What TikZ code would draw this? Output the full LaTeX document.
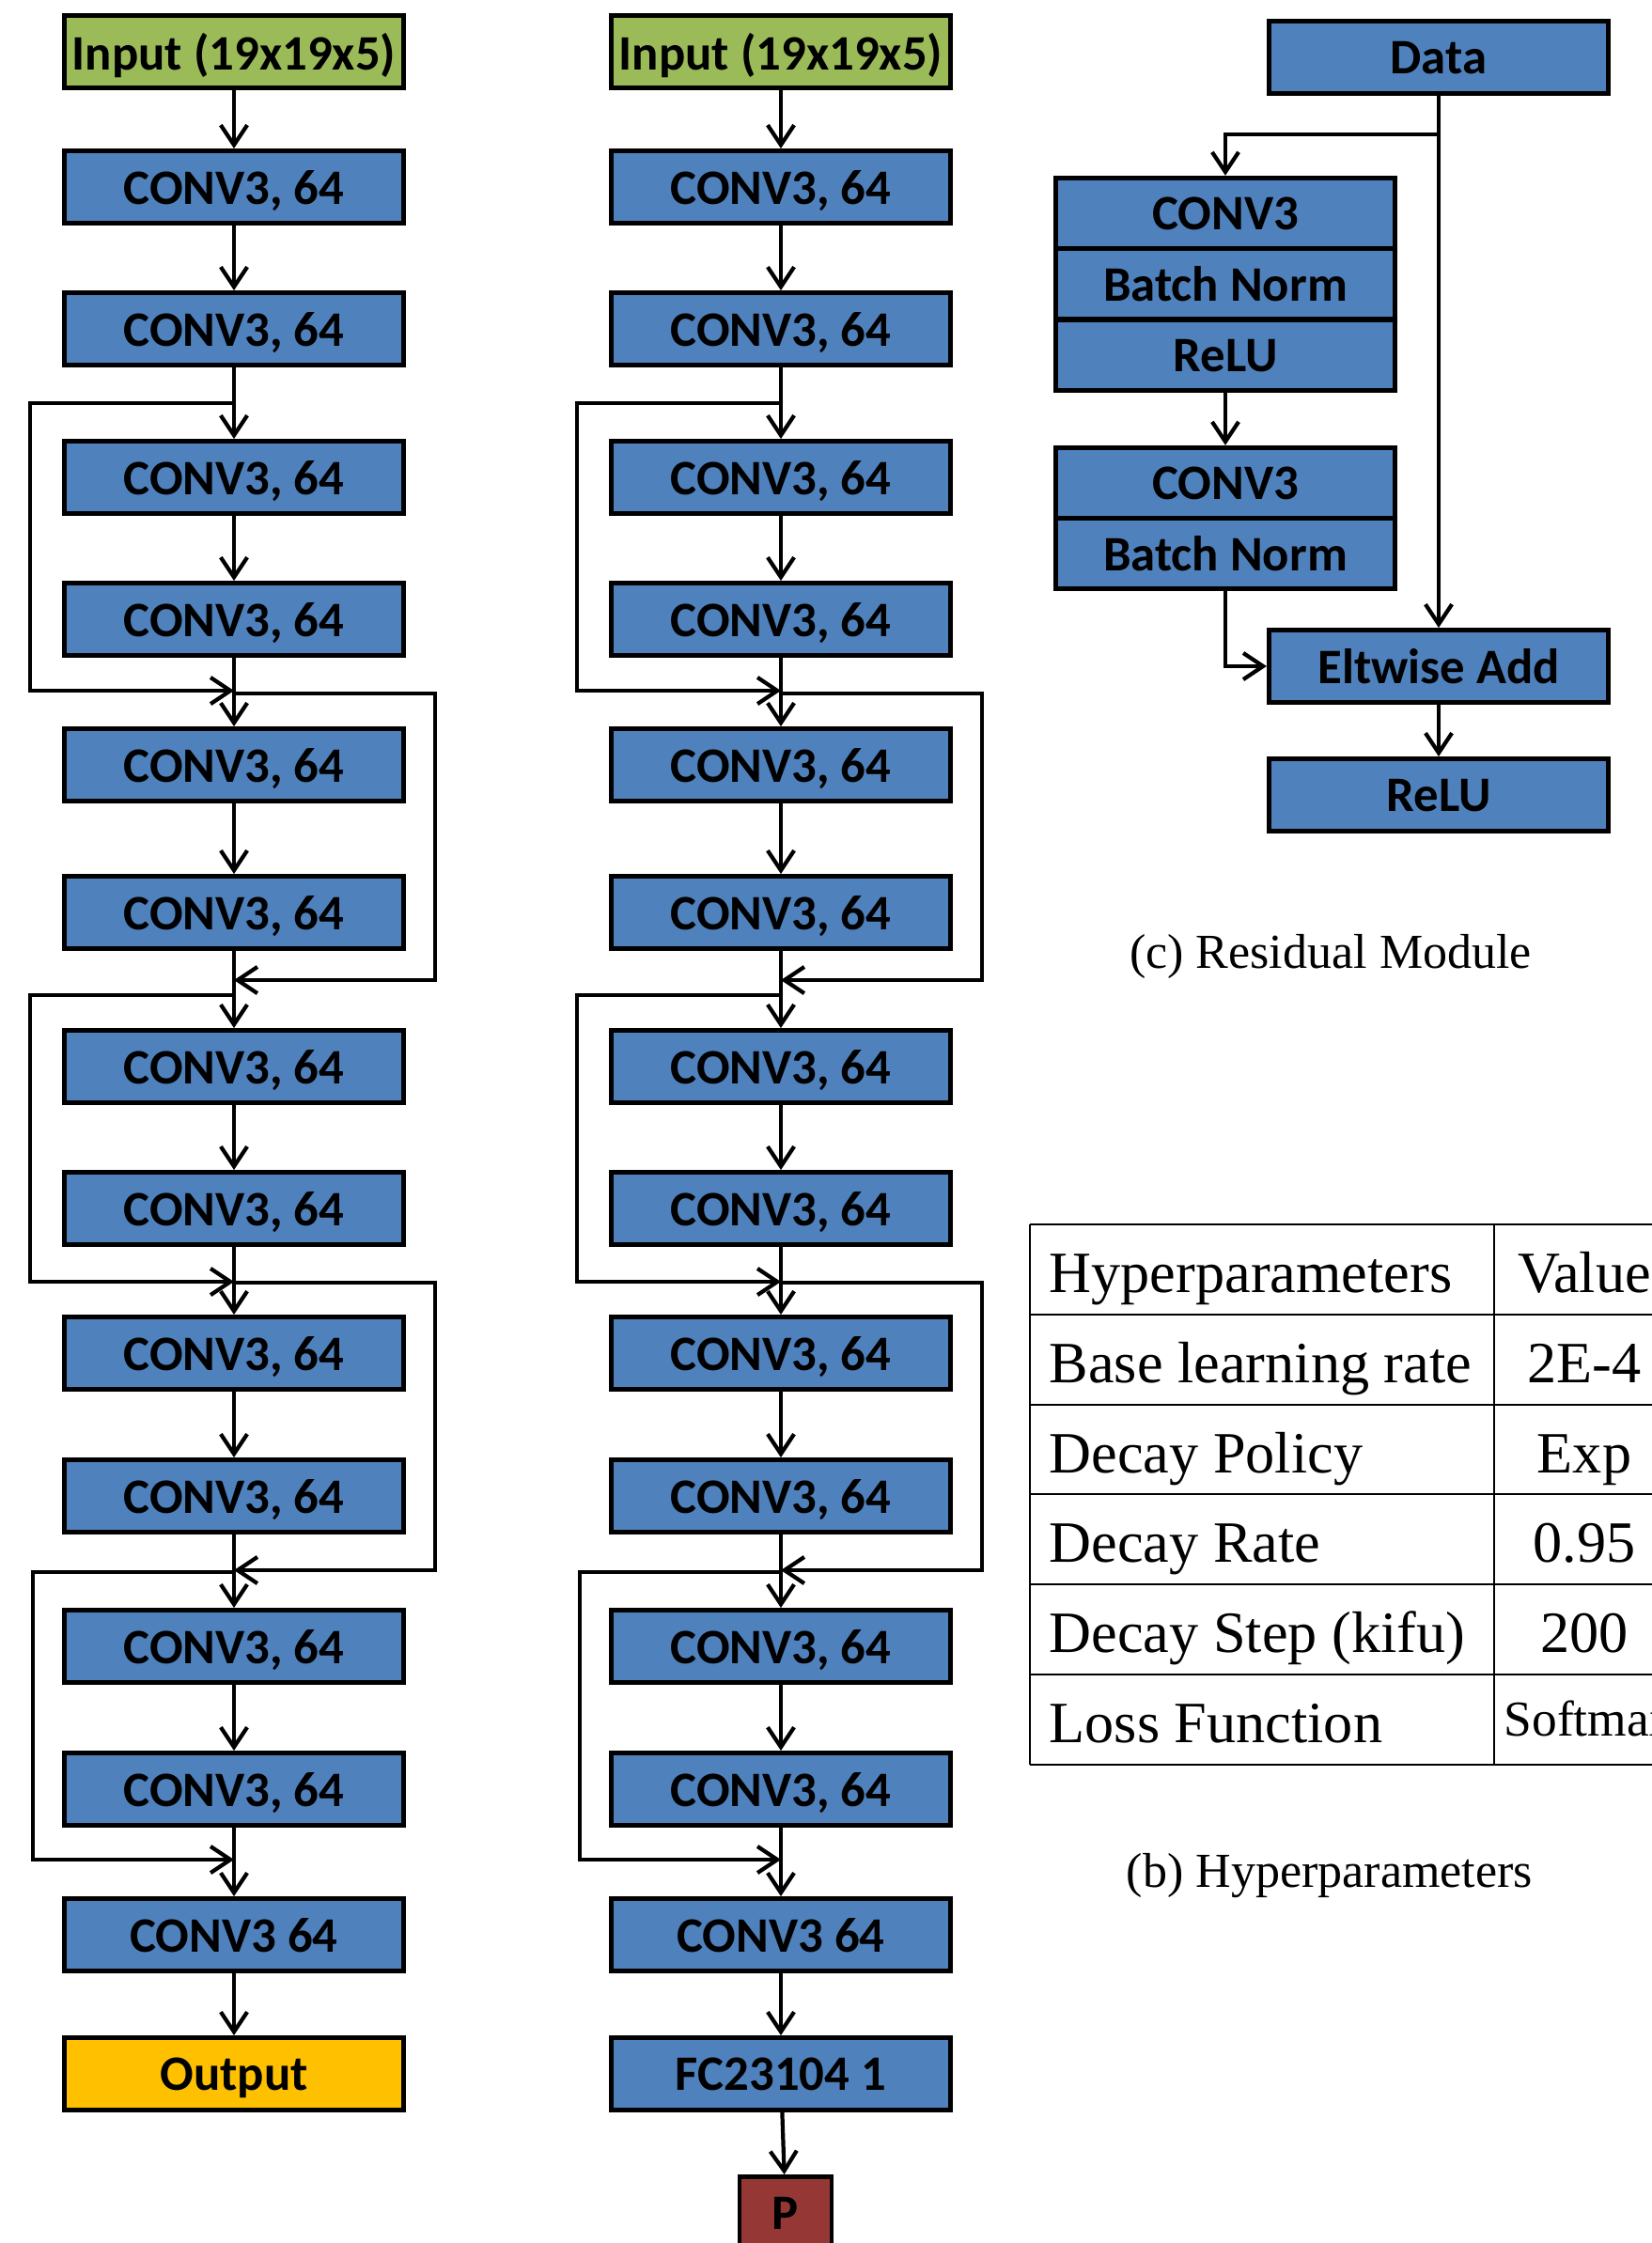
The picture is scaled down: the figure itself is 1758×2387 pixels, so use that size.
\documentclass[tikz,border=0pt]{standalone}
\usepackage{fontspec}
\setmainfont{Liberation Serif}
\newfontfamily\boxfont{Carlito}
\usetikzlibrary{arrows.meta}
\definecolor{blockblue}{HTML}{4F81BD}
\definecolor{inputgreen}{HTML}{9BBB59}
\definecolor{outorange}{HTML}{FFC000}
\definecolor{probred}{HTML}{953735}

\begin{document}
\begin{tikzpicture}[
    x=0.01cm, y=-0.01cm,
    block/.style={rectangle, draw=black, line width=1.4pt, minimum width=3.61cm,
      minimum height=0.77cm, inner sep=0pt, text depth=0pt, text=black,
      font={\boxfont\bfseries\fontsize{15}{18}\selectfont}},
    convbox/.style={block, fill=blockblue},
    inbox/.style={block, fill=inputgreen},
    outbox/.style={block, fill=outorange},
    pbox/.style={block, fill=probred, minimum width=0.98cm},
    layer/.style={convbox, minimum height=0.755cm},
    conn/.style={draw=black, line width=1.2pt, -{Straight Barb[length=6pt,width=8pt]}},
    tblline/.style={draw=black, line width=0.6pt},
    cell/.style={inner sep=0pt, font=\fontsize{17.7}{20}\selectfont},
    caption/.style={inner sep=0pt, font=\fontsize{14.8}{17}\selectfont},
  ]

  \useasboundingbox (0,0) rectangle (1758,2387);
  \clip (0,0) rectangle (1758,2387);

  % ---- the two stacks: input, twelve conv layers, last conv
  \foreach \col/\cx in {L/249, M/831} {
    \node[inbox] (\col0) at (\cx,55) {Input (19x19x5)};
    \foreach \i/\y in {1/199, 2/350, 3/508, 4/659, 5/814, 6/971,
        7/1135, 8/1286, 9/1440, 10/1592, 11/1752, 12/1904}
      \node[convbox] (\col\i) at (\cx,\y) {CONV3, 64};
    \node[convbox] (\col13) at (\cx,2059) {CONV3 64};
    \foreach \i [evaluate=\i as \j using int(\i+1)] in {0,...,12}
      \draw[conn] (\col\i) -- (\col\j);

    % ---- shortcut loops, alternately on the left and on the right
    \foreach \k/\ty/\jy/\dx in {1/429/735/-217, 2/738/1043/214,
        3/1059/1364/-217, 4/1365/1671/214, 5/1673/1979/-214} {
      \coordinate (\col-t\k) at (\cx,\ty);
      \coordinate (\col-j\k) at (\cx,\jy);
      \draw[conn] (\col-t\k) -- ++(\dx,0) |- (\col-j\k);
    }
  }

  % ---- heads of the two stacks
  \node[outbox] (L14) at (249,2207) {Output};
  \node[convbox] (M14) at (831,2207) {FC23104 1};
  \node[pbox] (prob) at (836,2355) {P};
  \draw[conn] (L13) -- (L14);
  \draw[conn] (M13) -- (M14);
  \draw[conn] (M14) -- (prob);

  % ---- residual module
  \node[convbox] (data) at (1531,61) {Data};
  \node[layer] (rc1) at (1304,227) {CONV3};
  \node[layer] (rb1) at (1304,302) {Batch Norm};
  \node[layer] (rr1) at (1304,378) {ReLU};
  \node[layer] (rc2) at (1304,514) {CONV3};
  \node[layer] (rb2) at (1304,589) {Batch Norm};
  \node[convbox] (elt) at (1531,709) {Eltwise Add};
  \node[convbox] (relu) at (1531,846) {ReLU};
  \coordinate (split) at (1531,143);
  \draw[conn] (data) -- (elt);
  \draw[conn] (split) -| (rc1);
  \draw[conn] (rr1) -- (rc2);
  \draw[conn] (rb2) |- (elt);
  \draw[conn] (elt) -- (relu);
  \node[caption, anchor=base] (capc) at (1416,1030) {(c) Residual Module};

  % ---- hyperparameter table
  \foreach \y in {1303,1399,1495,1590,1686,1782,1878}
    \draw[tblline] (1096,\y) -- (1800,\y);
  \draw[tblline] (1096,1303) -- (1096,1878);
  \draw[tblline] (1590,1303) -- (1590,1878);
  \foreach \r/\y/\name/\val in {1/1375/Hyperparameters/Value,
      2/1471/Base learning rate/2E-4, 3/1567/Decay Policy/Exp,
      4/1662/Decay Rate/0.95, 5/1758/Decay Step (kifu)/200} {
    \node[cell, anchor=base west] (h\r) at (1116,\y) {\name};
    \node[cell, anchor=base] (v\r) at (1686,\y) {\val};
  }
  \node[cell, anchor=base west] (h6) at (1116,1854) {Loss Function};
  \node[cell, anchor=base west, font=\fontsize{15.2}{17}\selectfont] (v6) at (1600,1847) {Softmax};
  \node[caption, anchor=base] (capb) at (1415,2008) {(b) Hyperparameters};

\end{tikzpicture}
\end{document}
